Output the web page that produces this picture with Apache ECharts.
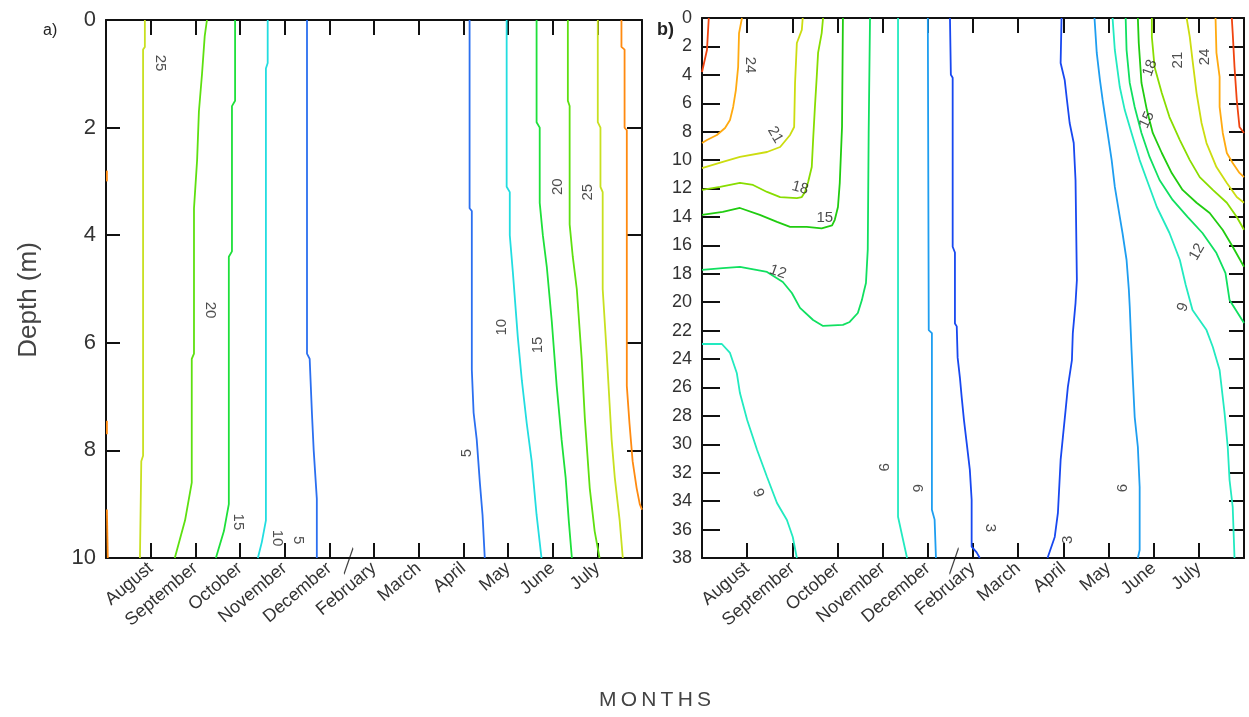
<!DOCTYPE html>
<html>
<head>
<meta charset="utf-8">
<script src="https://cdn.jsdelivr.net/npm/echarts@6/dist/echarts.min.js"></script>
<style>html,body{margin:0;padding:0;background:#fff}#c{width:1249px;height:717px}</style>
</head>
<body>
<div id="c"></div>
<script>
// ---------- tick labels ----------
const months = ['August','September','October','November','December','February','March','April','May','June','July'];

// ---------- panel a) contours: [month position, depth m] ----------
const a05L = [[4.50,0],[4.50,6.2],[4.56,6.3],[4.61,7.3],[4.65,8.0],[4.72,8.9],[4.72,10]];
const a10L = [[3.62,0],[3.62,0.8],[3.58,0.9],[3.58,9.3],[3.49,9.7],[3.40,10]];
const a15L = [[2.89,0],[2.89,1.5],[2.82,1.6],[2.82,4.3],[2.75,4.4],[2.75,9.0],[2.64,9.5],[2.46,10]];
const a20L = [[2.26,0],[2.21,0.3],[2.15,1.0],[2.08,1.7],[2.04,2.6],[1.97,3.5],[1.97,6.2],[1.92,6.3],[1.92,8.6],[1.77,9.3],[1.54,10]];
const a25L = [[0.87,0],[0.87,0.5],[0.83,0.55],[0.83,8.1],[0.79,8.2],[0.76,10]];
const a30L1 = [[0.02,2.8],[0.02,3.0]];
const a30L2 = [[0.02,7.45],[0.02,7.7]];
const a30L3 = [[0.02,9.1],[0.04,10]];
const a05R = [[8.14,0],[8.14,3.5],[8.19,3.55],[8.19,6.5],[8.23,7.3],[8.30,7.8],[8.37,8.6],[8.43,9.2],[8.48,10]];
const a10R = [[8.97,0],[8.97,3.1],[9.04,3.2],[9.04,4.0],[9.11,4.7],[9.22,5.9],[9.31,6.7],[9.42,7.5],[9.53,8.2],[9.64,9.2],[9.75,10]];
const a15R = [[9.64,0],[9.64,1.9],[9.71,2.0],[9.71,3.4],[9.78,4.0],[9.87,4.6],[9.98,5.6],[10.09,6.8],[10.2,7.8],[10.29,8.5],[10.36,9.3],[10.43,10]];
const a20R = [[10.34,0],[10.34,1.5],[10.38,1.6],[10.38,3.8],[10.45,4.4],[10.54,5.0],[10.65,6.3],[10.72,7.4],[10.83,8.7],[10.94,9.5],[11.05,10]];
const a25R = [[11.01,0],[11.01,1.9],[11.07,2.0],[11.07,3.1],[11.12,3.2],[11.12,5.0],[11.21,6.2],[11.32,7.8],[11.39,8.5],[11.5,9.3],[11.57,10]];
const a30R = [[11.54,0],[11.54,0.5],[11.61,0.55],[11.61,2.0],[11.66,2.05],[11.66,6.8],[11.72,7.5],[11.79,8.2],[11.88,8.7],[11.95,9.0],[12,9.1]];

// ---------- panel b) contours ----------
const b27L = [[0.15,0],[0.11,2.25],[0.0,3.8]];
const b24L = [[0.885,0],[0.82,1.06],[0.80,3.45],[0.75,5.07],[0.69,6.26],[0.62,7.18],[0.51,7.74],[0.33,8.23],[0.11,8.59],[0,8.8]];
const b21L = [[2.23,0],[2.21,0.84],[2.10,1.76],[2.06,4.58],[2.04,7.67],[1.95,8.23],[1.73,9.08],[1.44,9.43],[0.84,9.78],[0.46,10.13],[0,10.56]];
const b18L = [[2.68,0],[2.65,1.06],[2.57,2.46],[2.54,4.15],[2.50,6.26],[2.46,8.59],[2.43,10.49],[2.35,11.54],[2.28,12.24],[2.21,12.6],[2.10,12.67],[1.73,12.6],[1.44,12.24],[1.13,11.75],[0.84,11.61],[0.40,11.89],[0,12.1]];
const b15L = [[3.12,0],[3.10,7.67],[3.05,11.61],[3.01,13.3],[2.94,14.2],[2.88,14.6],[2.65,14.8],[2.32,14.7],[1.95,14.7],[1.66,14.35],[1.28,13.86],[0.84,13.37],[0.46,13.65],[0,13.86]];
const b12L = [[3.72,0],[3.69,8.09],[3.67,16.3],[3.63,18.65],[3.58,19.3],[3.54,19.85],[3.45,20.76],[3.27,21.39],[3.12,21.6],[2.68,21.67],[2.46,21.25],[2.17,20.4],[1.99,19.35],[1.79,18.58],[1.44,17.87],[0.84,17.52],[0.46,17.6],[0,17.73]];
const b09L1 = [[0,22.94],[0.44,22.94],[0.62,23.57],[0.77,24.98],[0.84,26.39],[1.0,28.29],[1.22,30.4],[1.44,32.3],[1.66,34.13],[1.88,35.33],[2.01,36.52],[2.10,38]];
const b09L2 = [[4.34,0],[4.34,35.1],[4.45,36.7],[4.54,38]];
const b06L = [[5.0,0],[5.02,21.96],[5.09,22.17],[5.09,34.6],[5.15,35.3],[5.18,38]];
const b03L = [[5.49,0],[5.51,4.0],[5.55,4.2],[5.55,16.1],[5.60,16.5],[5.60,21.5],[5.64,21.7],[5.66,23.9],[5.71,25.3],[5.75,26.7],[5.80,28.3],[5.86,29.9],[5.93,31.8],[5.97,33.9],[5.97,37.2],[6.08,37.6],[6.15,38]];
const b03R = [[7.96,0],[7.94,3.17],[8.03,4.36],[8.08,5.77],[8.14,7.39],[8.23,8.8],[8.27,11.4],[8.30,18.44],[8.27,20.06],[8.21,22.17],[8.19,24.07],[8.10,25.97],[8.05,27.59],[7.99,29.49],[7.94,31.1],[7.88,34.83],[7.81,36.52],[7.65,38]];
const b06R = [[8.69,0],[8.74,2.46],[8.81,4.36],[8.87,5.77],[8.98,8.09],[9.07,10.0],[9.14,11.89],[9.25,14.0],[9.31,15.13],[9.40,17.03],[9.45,19.1],[9.47,20.3],[9.51,23.36],[9.54,25.47],[9.58,28.08],[9.65,30.19],[9.69,33.0],[9.69,37.44],[9.65,38]];
const b09R = [[9.09,0],[9.14,2.25],[9.25,4.86],[9.36,6.48],[9.51,8.09],[9.69,10.0],[9.85,11.4],[10.07,13.3],[10.35,15.13],[10.58,17.03],[10.71,18.79],[10.86,20.55],[11.17,21.96],[11.31,23.15],[11.46,24.77],[11.57,27.8],[11.64,30.19],[11.68,32.51],[11.75,34.41],[11.79,38]];
const b12R = [[9.38,0],[9.40,2.25],[9.47,4.57],[9.58,6.26],[9.73,8.09],[9.91,9.78],[10.13,11.4],[10.42,12.8],[10.75,14.0],[11.08,15.13],[11.39,16.54],[11.59,17.95],[11.68,19.85],[12,21.46]];
const b15R = [[9.65,0],[9.67,1.76],[9.73,4.57],[9.85,6.48],[9.98,8.09],[10.18,9.5],[10.40,10.91],[10.64,12.1],[10.95,13.0],[11.24,13.72],[11.53,14.92],[11.75,16.1],[12,17.5]];
const b18R = [[9.96,0],[9.96,1.34],[10.02,3.45],[10.18,5.28],[10.35,6.97],[10.58,8.59],[10.80,10.0],[11.02,11.2],[11.31,12.1],[11.62,13.0],[11.84,14.0],[12,14.9]];
const b21R = [[10.73,0],[10.80,1.34],[10.86,2.96],[10.95,5.28],[11.06,7.39],[11.17,8.8],[11.39,10.49],[11.62,11.61],[11.84,12.6],[12,13.0]];
const b24R = [[11.37,0],[11.39,2.46],[11.46,4.15],[11.46,6.26],[11.53,8.09],[11.62,9.5],[11.75,10.2],[11.90,10.9],[12,11.2]];
const b27R = [[11.73,0],[11.75,1.06],[11.79,3.45],[11.84,5.77],[11.90,7.67],[12,8.09]];

// ---------- contour labels: [x, depth, text, rotation] ----------
const labelsA = [[1.21,0.8,'25',-90],[2.33,5.39,'20',-90],[2.95,9.33,'15',-90],[3.83,9.63,'10',-90],[4.30,9.67,'5',-90],
  [8.08,8.05,'5',90],[8.87,5.71,'10',90],[9.67,6.04,'15',90],[10.12,3.10,'20',90],[10.79,3.20,'25',90]];
const labelsB = [[1.06,3.31,'24',-90],[1.62,8.23,'21',-60],[2.17,11.96,'18',-15],[2.72,14.07,'15',0],[1.68,17.87,'12',-20],
  [1.24,33.43,'9',-70],[4.01,31.6,'9',-90],[4.76,33.08,'6',-90],[6.38,35.89,'3',-90],[8.10,36.73,'3',90],
  [9.32,33.08,'6',90],[10.65,20.34,'9',70],[10.96,16.47,'12',60],[9.85,7.18,'15',65],[9.92,3.52,'18',70],
  [10.54,2.96,'21',90],[11.14,2.74,'24',90]];

// ---------- axis break marks ----------
const breakA = [[5.43,10]];
const breakB = [[5.58,38]];

// ---------- colours per level ----------
const colA = {5:'#2b6ff0',10:'#22dde0',15:'#1ee03a',20:'#5ee010',25:'#c8e020',30:'#ff8a10'};
const colB = {3:'#1848f0',6:'#1e9ef0',9:'#22eac0',12:'#10e060',15:'#20cc10',18:'#88dd00',21:'#ccdd10',24:'#ffaa10',27:'#f04410'};

const contoursA = [[5,a05L],[10,a10L],[15,a15L],[20,a20L],[25,a25L],[30,a30L1],[30,a30L2],[30,a30L3],
  [5,a05R],[10,a10R],[15,a15R],[20,a20R],[25,a25R],[30,a30R]];
const contoursB = [[27,b27L],[24,b24L],[21,b21L],[18,b18L],[15,b15L],[12,b12L],[9,b09L1],[9,b09L2],[6,b06L],[3,b03L],
  [3,b03R],[6,b06R],[9,b09R],[12,b12R],[15,b15R],[18,b18R],[21,b21R],[24,b24R],[27,b27R]];

const FONT = 'Liberation Sans, Arial, sans-serif';
const series = [];
function addLines(list, cols, idx){
  list.forEach(([lvl, data]) => series.push({
    type:'line', xAxisIndex:idx, yAxisIndex:idx, data, symbol:'none', showSymbol:false,
    lineStyle:{color:cols[lvl], width:1.8}, silent:true, animation:false, z:3
  }));
}
addLines(contoursA, colA, 0);
addLines(contoursB, colB, 2);
function addLabels(list, idx){
  series.push({
    type:'scatter', xAxisIndex:idx, yAxisIndex:idx, symbolSize:1, itemStyle:{color:'rgba(0,0,0,0)'},
    silent:true, animation:false, z:5,
    label:{show:true, position:'inside', fontSize:15, color:'#222', fontFamily:FONT},
    data: list.map(([x,d,t,r]) => ({value:[x,d], label:{formatter:t, rotate:r}}))
  });
}
addLabels(labelsA, 0);
addLabels(labelsB, 2);
function addBreak(data, idx){
  series.push({
    type:'scatter', xAxisIndex:idx, yAxisIndex:idx, data, clip:false, silent:true, animation:false, z:10,
    symbol:'path://M10,0 L0,30', symbolSize:[9,26], symbolOffset:[0,3],
    itemStyle:{color:'none', borderColor:'#111', borderWidth:1.5}
  });
}
addBreak(breakA, 0);
addBreak(breakB, 2);

function axLine(){ return {show:true, onZero:false, lineStyle:{color:'#111', width:2}}; }
function xAx(grid, pos, showLabel){
  return {type:'value', gridIndex:grid, position:pos, min:0, max:12, interval:1,
    axisLine:axLine(), splitLine:{show:false},
    axisTick:{show:true, inside:true, length:15, lineStyle:{color:'#111', width:2}},
    axisLabel: showLabel ? {show:true, rotate:40, margin:8, fontSize:18, color:'#333', fontFamily:FONT,
      formatter: v => months[v-1] || ''} : {show:false}};
}
function yAx(grid, pos, max, showLabel, fs, tickLen){
  return {type:'value', gridIndex:grid, position:pos, inverse:true, min:0, max:max, interval:2,
    axisLine:axLine(), splitLine:{show:false},
    axisTick:{show:true, inside:true, length:tickLen, lineStyle:{color:'#111', width:2}},
    axisLabel: showLabel ? {show:true, margin:10, fontSize:fs, color:'#333', fontFamily:FONT} : {show:false}};
}

const option = {
  backgroundColor:'#fff',
  animation:false,
  grid:[
    {left:106, top:20, width:536, height:538},
    {left:702, top:18, width:542, height:540}
  ],
  xAxis:[xAx(0,'bottom',true), xAx(0,'top',false), xAx(1,'bottom',true), xAx(1,'top',false)],
  yAxis:[yAx(0,'left',10,true,22,14), yAx(0,'right',10,false,22,15), yAx(1,'left',38,true,18,18), yAx(1,'right',38,false,18,15)],
  graphic:[
    {type:'text', x:655, y:700, style:{text:'M\u2009O\u2009N\u2009T\u2009H\u2009S', font:'21px '+FONT, fill:'#444', align:'center', verticalAlign:'middle'}},
    {type:'text', x:29, y:300, rotation:Math.PI/2, style:{text:'Depth (m)', font:'26px '+FONT, fill:'#444', align:'center', verticalAlign:'middle'}},
    {type:'text', x:43, y:31, style:{text:'a)', font:'16px '+FONT, fill:'#222', verticalAlign:'middle'}},
    {type:'text', x:657, y:30, style:{text:'b)', font:'bold 18px '+FONT, fill:'#222', verticalAlign:'middle'}}
  ],
  series
};
const chart = echarts.init(document.getElementById('c'), null, {renderer:'canvas'});
chart.setOption(option);
</script>
</body>
</html>
